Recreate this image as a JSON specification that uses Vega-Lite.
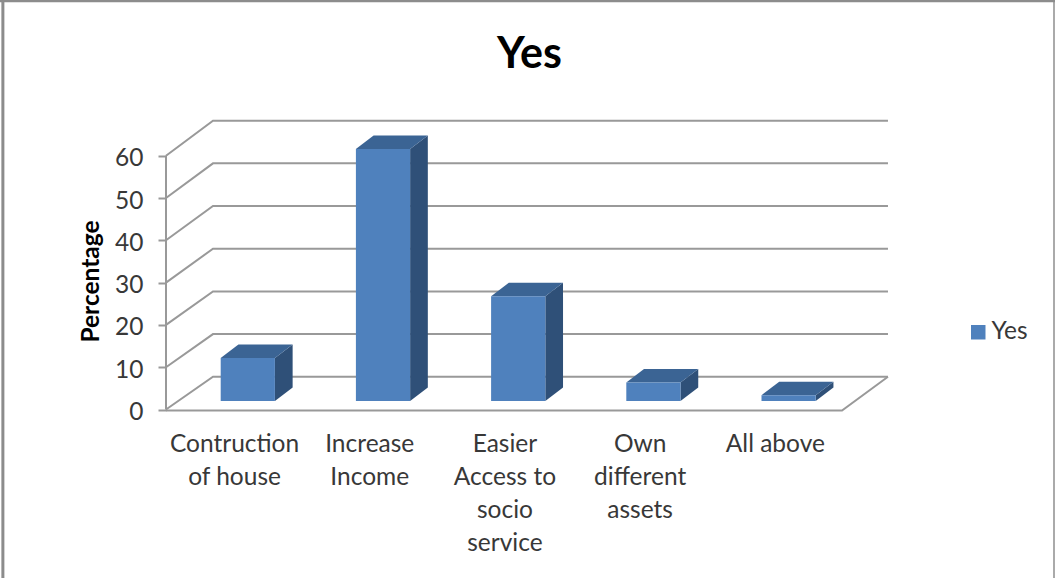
{
  "$schema": "https://vega.github.io/schema/vega-lite/v6.json",
  "width": 1055,
  "height": 578,
  "padding": 0,
  "autosize": {"type": "none"},
  "background": "white",
  "config": {"view": {"stroke": null}, "font": "Lato"},
  "resolve": {"axis": {"y": "independent", "x": "independent"}},
  "title": {
    "text": "Yes",
    "font": "Lato",
    "fontSize": 43,
    "fontWeight": "bold",
    "color": "#000000",
    "anchor": "middle",
    "offset": -78,
    "dx": 2
  },
  "datasets": {
    "reasons": [
      {"category": "Contruction\nof house", "series": "Yes", "value": 10.2},
      {"category": "Increase\nIncome", "series": "Yes", "value": 59.6},
      {"category": "Easier\nAccess to\nsocio\nservice", "series": "Yes", "value": 24.8},
      {"category": "Own\ndifferent\nassets", "series": "Yes", "value": 4.4},
      {"category": "All above", "series": "Yes", "value": 1.4}
    ],
    "ticks": [
      {"tick": 0}, {"tick": 10}, {"tick": 20}, {"tick": 30}, {"tick": 40}, {"tick": 50}, {"tick": 60}
    ]
  },
  "layer": [
    {
      "description": "Gridlines running from the front edge over the side wall and along the back wall",
      "data": {"name": "ticks"},
      "transform": [
        {"calculate": "[0,1,2]", "as": "pt"},
        {"flatten": ["pt"]},
        {"calculate": "datum.pt == 0 ? 0 : datum.pt == 1 ? 0.3476 : 5.34", "as": "gx"},
        {"calculate": "datum.pt == 0 ? datum.tick : datum.tick * 1.0088 + 7.75", "as": "gy"}
      ],
      "mark": {"type": "line", "color": "#999999", "strokeWidth": 2},
      "encoding": {
        "x": {
          "field": "gx",
          "type": "quantitative",
          "axis": null,
          "scale": {"domain": [-1.2278, 6.5754], "nice": false, "zero": false}
        },
        "y": {
          "field": "gy",
          "type": "quantitative",
          "scale": {"domain": [-39.83, 96.81], "nice": false, "zero": false},
          "axis": {
            "values": [0, 10, 20, 30, 40, 50, 60],
            "orient": "left",
            "offset": -166,
            "grid": false,
            "domain": false,
            "ticks": true,
            "tickSize": 8,
            "tickWidth": 2,
            "tickColor": "#999999",
            "labelFont": "Lato",
            "labelFontSize": 24.5,
            "labelColor": "#383838",
            "labelPadding": 15,
            "labelOffset": 3,
            "labelFlush": false,
            "labelOverlap": false,
            "title": "Percentage",
            "titleFont": "Lato",
            "titleFontSize": 24.5,
            "titleFontWeight": "bold",
            "titleColor": "#000000",
            "titleX": -75,
            "titleY": 281,
            "titleAlign": "center",
            "titleBaseline": "middle",
            "titleAngle": -90
          }
        },
        "detail": {"field": "tick", "type": "nominal"},
        "order": {"field": "pt", "type": "quantitative"}
      }
    },
    {
      "description": "Front edge of the floor and its right-hand diagonal",
      "data": {"values": [{"pt": 0}, {"pt": 1}, {"pt": 2}]},
      "transform": [
        {"calculate": "datum.pt == 0 ? 0 : datum.pt == 1 ? 5 : 5.34", "as": "fx"},
        {"calculate": "datum.pt == 2 ? 7.75 : -0.25", "as": "fy"}
      ],
      "mark": {"type": "line", "color": "#999999", "strokeWidth": 2},
      "encoding": {
        "x": {"field": "fx", "type": "quantitative", "axis": null},
        "y": {"field": "fy", "type": "quantitative", "axis": null},
        "order": {"field": "pt", "type": "quantitative"}
      }
    },
    {
      "description": "Vertical value axis line on the front plane",
      "data": {"values": [{"at": 0, "low": 0, "high": 60}]},
      "mark": {"type": "rule", "color": "#999999", "strokeWidth": 2},
      "encoding": {
        "x": {"field": "at", "type": "quantitative", "axis": null},
        "y": {"field": "low", "type": "quantitative", "axis": null},
        "y2": {"field": "high"}
      }
    },
    {
      "description": "Right side faces of the bars",
      "data": {"name": "reasons"},
      "transform": [
        {"window": [{"op": "row_number", "as": "n"}]},
        {"calculate": "[0,1]", "as": "pt"},
        {"flatten": ["pt"]},
        {"calculate": "datum.n - 1 + 0.8056 + datum.pt * 0.131", "as": "sx"},
        {"calculate": "2 + datum.pt * 3.19", "as": "sy0"},
        {"calculate": "datum.sy0 + datum.value", "as": "sy1"}
      ],
      "mark": {"type": "area", "color": "#2F5078", "orient": "vertical"},
      "encoding": {
        "x": {"field": "sx", "type": "quantitative", "axis": null},
        "y": {"field": "sy1", "type": "quantitative", "axis": null},
        "y2": {"field": "sy0"},
        "detail": {"field": "n", "type": "nominal"}
      }
    },
    {
      "description": "Top faces of the bars",
      "data": {"name": "reasons"},
      "transform": [
        {"window": [{"op": "row_number", "as": "n"}]},
        {"calculate": "[0,1]", "as": "pt"},
        {"flatten": ["pt"]},
        {"calculate": "datum.n - 1 + 0.4046 + datum.pt * 0.131", "as": "tx0"},
        {"calculate": "datum.tx0 + 0.401", "as": "tx1"},
        {"calculate": "2 + datum.value + datum.pt * 3.19", "as": "ty"}
      ],
      "mark": {"type": "area", "color": "#3B6494", "orient": "horizontal"},
      "encoding": {
        "y": {"field": "ty", "type": "quantitative", "axis": null},
        "x": {"field": "tx0", "type": "quantitative", "axis": null},
        "x2": {"field": "tx1"},
        "detail": {"field": "n", "type": "nominal"}
      }
    },
    {
      "description": "Front faces of the bars, which also feed the legend",
      "data": {"name": "reasons"},
      "transform": [
        {"window": [{"op": "row_number", "as": "n"}]},
        {"calculate": "datum.n - 1 + 0.4046", "as": "bx0"},
        {"calculate": "datum.bx0 + 0.401", "as": "bx1"},
        {"calculate": "2", "as": "by0"},
        {"calculate": "2 + datum.value", "as": "by1"}
      ],
      "mark": {"type": "rect"},
      "encoding": {
        "x": {"field": "bx0", "type": "quantitative", "axis": null},
        "x2": {"field": "bx1"},
        "y": {"field": "by0", "type": "quantitative", "axis": null},
        "y2": {"field": "by1"},
        "color": {
          "field": "series",
          "type": "nominal",
          "scale": {"domain": ["Yes"], "range": ["#4F81BD"]},
          "legend": {
            "orient": "none",
            "legendX": 966,
            "legendY": 320,
            "title": null,
            "symbolType": "square",
            "symbolSize": 210,
            "symbolStrokeWidth": 0,
            "symbolOpacity": 1,
            "labelFont": "Lato",
            "labelFontSize": 24.5,
            "labelColor": "#383838",
            "labelOffset": 1,
            "padding": 0
          }
        }
      }
    },
    {
      "description": "Multi-line category labels under the floor",
      "data": {"name": "reasons"},
      "transform": [
        {"window": [{"op": "row_number", "as": "n"}]},
        {"calculate": "datum.n - 1 + 0.507", "as": "lx"},
        {"calculate": "-5.55", "as": "ly"}
      ],
      "mark": {
        "type": "text",
        "font": "Lato",
        "fontSize": 24.5,
        "color": "#383838",
        "align": "center",
        "baseline": "top",
        "lineBreak": "\n",
        "lineHeight": 33
      },
      "encoding": {
        "x": {"field": "lx", "type": "quantitative", "axis": null},
        "y": {"field": "ly", "type": "quantitative", "axis": null},
        "text": {"field": "category", "type": "nominal"}
      }
    },
    {
      "description": "Chart frame: left edge",
      "data": {"values": [{"edge": -1.2065}]},
      "mark": {"type": "rule", "color": "#8C8C8C", "strokeWidth": 3},
      "encoding": {"x": {"field": "edge", "type": "quantitative", "axis": null}}
    },
    {
      "description": "Chart frame: right edge",
      "data": {"values": [{"edge": 6.5680}]},
      "mark": {"type": "rule", "color": "#AAAAAA", "strokeWidth": 2},
      "encoding": {"x": {"field": "edge", "type": "quantitative", "axis": null}}
    },
    {
      "description": "Chart frame: top edge",
      "data": {"values": [{"edge": 96.60}]},
      "mark": {"type": "rule", "color": "#8C8C8C", "strokeWidth": 2.5},
      "encoding": {"y": {"field": "edge", "type": "quantitative", "axis": null}}
    }
  ]
}
